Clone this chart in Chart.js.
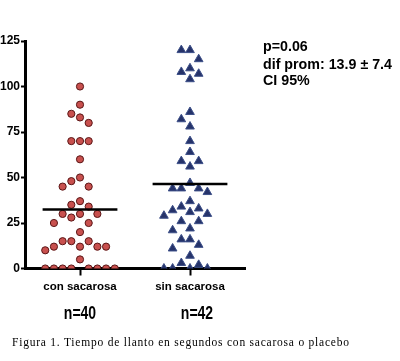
<!DOCTYPE html>
<html>
<head>
<meta charset="utf-8">
<script src="https://cdn.jsdelivr.net/npm/chart.js@4/dist/chart.umd.min.js"></script>
<style>
  html, body { margin: 0; padding: 0; background: #fff; }
  #wrap { position: relative; width: 400px; height: 361px; overflow: hidden; }
  #c { position: absolute; left: 0; top: 0; }
  .ann { position: absolute; font-family: "Liberation Sans", Arial, sans-serif; font-weight: bold; color: #000; white-space: nowrap; line-height: normal; transform-origin: 0 0; }
  .nlab { position: absolute; font-family: "Liberation Sans", Arial, sans-serif; font-weight: bold; font-size: 17.5px; color: #000; white-space: nowrap; line-height: normal; }
  #caption { position: absolute; left: 12px; font-family: "Liberation Serif", "Times New Roman", serif; font-size: 11.5px; color: #000; white-space: nowrap; line-height: normal; }
</style>
</head>
<body>
<div id="wrap">
  <canvas id="c" width="400" height="361"></canvas>
</div>
<script>
// ---- data ----
const categories = ['con sacarosa', 'sin sacarosa'];
const sampleSizes = ['n=40', 'n=42'];
const conSacarosa = [100, 90, 85, 83, 80, 70, 70, 70, 60, 50, 48, 45, 45, 37, 35, 34, 30, 30, 30, 28, 25, 25, 20, 15, 15, 15, 12, 12, 12, 12, 10, 5, 0, 0, 0, 0, 0, 0, 0, 0];
const sinSacarosa = [120, 120, 115, 110, 108, 107, 104, 86, 82, 78, 70, 64, 59, 59, 56, 47, 44, 44, 44, 42, 37, 34, 33, 32, 31, 30, 29, 26, 26, 22, 21, 16, 16, 13, 11, 7, 3, 2, 0, 0, 0, 0];
const yTicks = [0, 25, 50, 75, 100, 125];
const statsLines = ['p=0.06', 'dif prom: 13.9 \u00b1 7.4', 'CI 95%'];
const captionText = 'Figura 1. Tiempo de llanto en segundos con sacarosa o placebo';

// ---- helpers ----
function hasFont(name) {
  const ctx = document.createElement('canvas').getContext('2d');
  const s = 'con sacarosa 0123456789';
  ctx.font = 'bold 20px monospace';
  const w1 = ctx.measureText(s).width;
  ctx.font = 'bold 20px "' + name + '", monospace';
  const w2 = ctx.measureText(s).width;
  return Math.abs(w1 - w2) > 0.5;
}
const narrow = hasFont('Liberation Sans Narrow');
const tickFamily = narrow ? '"Liberation Sans Narrow", "Liberation Sans", Arial, sans-serif' : '"Liberation Sans", Arial, sans-serif';
const yTickSize = narrow ? 13 : 12;
const xTickSize = narrow ? 13.5 : 11.5;

// beeswarm layout computed from the values (no typed offsets)
const STEP = 0.079;   // horizontal slot width in x units
const TY = 5.6;       // vertical collision distance in y units
function swarm(values, center) {
  const sorted = values.slice().sort((a, b) => b - a);
  const placed = [];
  const out = [];
  for (const v of sorted) {
    let k = 0;
    for (let i = 0; i < 40; i++) {
      const cand = i === 0 ? 0 : (i % 2 === 1 ? -Math.ceil(i / 2) : Math.ceil(i / 2));
      const hit = placed.some(p => p.k === cand && Math.abs(p.v - v) < TY);
      if (!hit) { k = cand; break; }
    }
    placed.push({ k, v });
    out.push({ x: center + k * STEP, y: v });
  }
  return out;
}
const mean = a => a.reduce((s, v) => s + v, 0) / a.length;
const HALF = 0.34;
function meanLine(values, center) {
  const m = mean(values);
  return [{ x: center - HALF, y: m }, { x: center + HALF, y: m }];
}

const chart = new Chart(document.getElementById('c'), {
  type: 'scatter',
  data: {
    datasets: [
      { type: 'line', data: meanLine(conSacarosa, 1), borderColor: '#000', borderWidth: 2.5, pointRadius: 0, order: 0 },
      { type: 'line', data: meanLine(sinSacarosa, 2), borderColor: '#000', borderWidth: 2.5, pointRadius: 0, order: 0 },
      { label: categories[0], data: swarm(conSacarosa, 1), pointStyle: 'circle', pointRadius: 3.6, backgroundColor: '#c8504e', borderColor: '#5a1616', borderWidth: 1, order: 1,
        clip: { left: false, top: false, right: false, bottom: 0 } },
      { label: categories[1], data: swarm(sinSacarosa, 2), pointStyle: 'triangle', pointRadius: 5, backgroundColor: '#26336a', borderColor: '#3c4f88', borderWidth: 1, order: 1,
        clip: { left: false, top: false, right: false, bottom: 0 } }
    ]
  },
  options: {
    responsive: false,
    animation: false,
    devicePixelRatio: 1,
    layout: { padding: { left: 0, top: 41, right: 155, bottom: 0 } },
    plugins: { legend: { display: false }, tooltip: { enabled: false } },
    scales: {
      x: {
        type: 'linear', min: 0.5, max: 2.5,
        afterBuildTicks: s => { s.ticks = categories.map((c, i) => ({ value: i + 1 })); },
        afterFit: s => { s.height = 92.5; },
        ticks: { autoSkip: false, maxRotation: 0, padding: narrow ? 3 : 4, color: '#000',
          font: { family: tickFamily, size: xTickSize, weight: 'bold' },
          callback: v => categories[Math.round(v) - 1] },
        grid: { display: true, drawOnChartArea: false, drawTicks: true, tickLength: 7, tickWidth: 2, tickColor: '#000' },
        border: { display: true, color: '#000', width: 3 }
      },
      y: {
        min: 0, max: 125,
        afterBuildTicks: s => { s.ticks = yTicks.map(v => ({ value: v })); },
        afterFit: s => { s.width = 25; },
        ticks: { padding: 1, color: '#000', font: { family: tickFamily, size: yTickSize, weight: 'bold' } },
        grid: { display: true, drawOnChartArea: false, drawTicks: true, tickLength: 4, tickWidth: 2, tickColor: '#000' },
        border: { display: true, color: '#000', width: 3 }
      }
    }
  }
});

// ---- text overlays ----
const wrap = document.getElementById('wrap');
const xs = chart.scales.x;
const nOffsets = [0, 7];
sampleSizes.forEach((t, i) => {
  const d = document.createElement('div');
  d.className = 'nlab';
  d.textContent = t;
  wrap.appendChild(d);
  const cx = xs.getPixelForValue(i + 1) + nOffsets[i];
  d.style.left = cx + 'px';
  d.style.top = (313 - d.offsetHeight / 2) + 'px';
  d.style.transform = 'translateX(-50%) scaleX(0.8)';
});

const baselines = [50.7, 68.3, 85];
statsLines.forEach((t, i) => {
  const d = document.createElement('div');
  d.className = 'ann';
  d.style.fontSize = '15px';
  d.textContent = t;
  d.style.left = '263px';
  d.style.top = (baselines[i] - 0.905 * 15) + 'px';
  d.style.transform = 'scaleX(0.95)';
  wrap.appendChild(d);
});

const cap = document.createElement('div');
cap.id = 'caption';
cap.textContent = captionText;
wrap.appendChild(cap);
cap.style.top = (346 - 0.891 * 11.5) + 'px';
const w = cap.getBoundingClientRect().width;
const target = 337;
cap.style.letterSpacing = ((target - w) / (captionText.length - 1)) + 'px';
</script>
</body>
</html>
